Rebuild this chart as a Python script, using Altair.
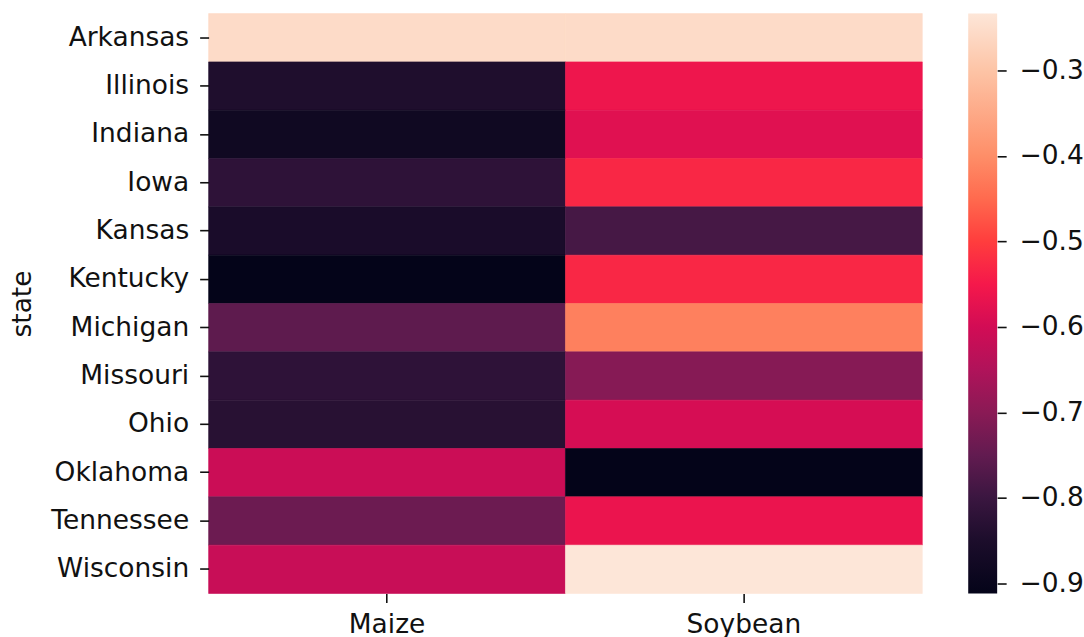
import altair as alt
import pandas as pd

# Correlation per state and crop
states = ["Arkansas", "Illinois", "Indiana", "Iowa", "Kansas", "Kentucky",
          "Michigan", "Missouri", "Ohio", "Oklahoma", "Tennessee", "Wisconsin"]
crops = ["Maize", "Soybean"]
maize = [-0.255, -0.845, -0.880, -0.820, -0.855, -0.911,
         -0.755, -0.820, -0.830, -0.610, -0.737, -0.615]
soybean = [-0.255, -0.560, -0.580, -0.530, -0.785, -0.530,
           -0.420, -0.705, -0.595, -0.9117, -0.565, -0.2335]

# Colour ramp (dark purple -> crimson -> peach)
ramp_values = [-0.9117, -0.85, -0.8, -0.75, -0.7, -0.65, -0.6, -0.55,
               -0.5, -0.45, -0.4, -0.3, -0.2335]
ramp_colors = ["#040419", "#1C0D2B", "#3A1640", "#621B50", "#8A1A55",
               "#B0135A", "#D20C55", "#F5184B", "#FF3D3D", "#FF6A4E",
               "#FE8E68", "#FDC4A6", "#FDE6D8"]
bar_ticks = [-0.9, -0.8, -0.7, -0.6, -0.5, -0.4, -0.3]

lo, hi = min(ramp_values), max(ramp_values)

rows = []
for i, s in enumerate(states):
    rows.append({"state": s, "crop": crops[0], "value": maize[i]})
    rows.append({"state": s, "crop": crops[1], "value": soybean[i]})
df = pd.DataFrame(rows)

FONT = "DejaVu Sans"
FS = 26.5

color_scale = alt.Scale(domain=ramp_values, range=ramp_colors,
                        type="linear", interpolate="rgb", clamp=True)

heat = alt.Chart(df).mark_rect(strokeWidth=0.6).encode(
    x=alt.X("crop:N", sort=crops, title=None,
            scale=alt.Scale(paddingInner=0, paddingOuter=0),
            axis=alt.Axis(labelAngle=0, labelPadding=9)),
    y=alt.Y("state:N", sort=states, title="state",
            scale=alt.Scale(paddingInner=0, paddingOuter=0),
            axis=alt.Axis(labelPadding=11, titlePadding=14)),
    color=alt.Color("value:Q", scale=color_scale, legend=None),
    stroke=alt.Color("value:Q", scale=color_scale, legend=None),
).properties(width=715, height=581)

# Colour bar: one gradient-filled rect on a value axis
stops = [alt.GradientStop(offset=(hi - v) / (hi - lo), color=c)
         for v, c in sorted(zip(ramp_values, ramp_colors), key=lambda t: -t[0])]
bar_df = pd.DataFrame({"lo": [lo], "hi": [hi]})
colorbar = alt.Chart(bar_df).mark_rect(
    color=alt.LinearGradient(gradient="linear", stops=stops,
                             x1=0, x2=0, y1=0, y2=1)
).encode(
    x=alt.value(0), x2=alt.value(29),
    y=alt.Y("lo:Q", scale=alt.Scale(domain=[lo, hi], nice=False, zero=False),
            title=None,
            axis=alt.Axis(orient="right", values=bar_ticks, format=".1f",
                          labelExpr="replace(datum.label, '-', '\u2212')",
                          labelPadding=13, grid=False)),
    y2="hi:Q",
).properties(width=29, height=581)

chart = alt.hconcat(heat, colorbar, spacing=45).properties(
    padding={"left": 9, "top": 12, "right": 0, "bottom": 0},
    background="white",
).configure_view(stroke=None).configure_axis(
    domain=False, ticks=True, tickSize=9, tickWidth=1.6, tickColor="#111",
    labelFont=FONT, labelFontSize=FS, labelColor="#111",
    titleFont=FONT, titleFontSize=FS, titleFontWeight="normal", titleColor="#111",
    grid=False,
)

chart.save("out.html", embed_options={"renderer": "svg", "actions": False})
